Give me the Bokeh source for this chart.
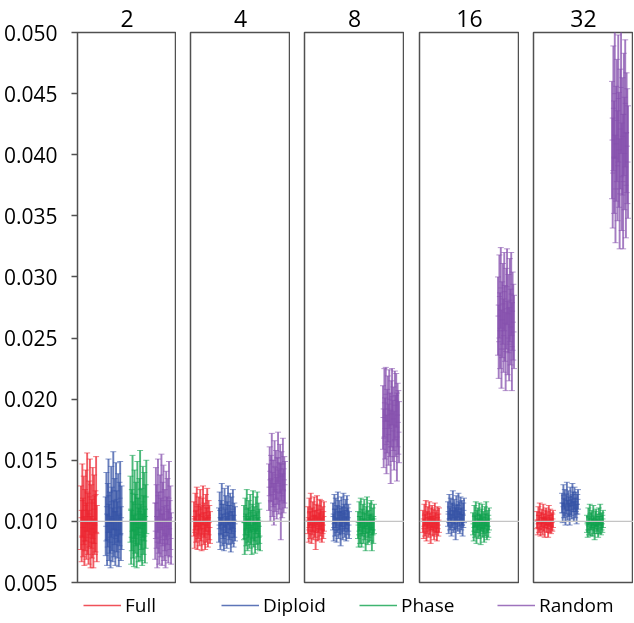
from bokeh.plotting import figure
from bokeh.layouts import column, row
from bokeh.models import Range1d, FixedTicker, PrintfTickFormatter, Span, Legend, LegendItem
from bokeh.embed import file_html
from bokeh.resources import INLINE

panels = ["2", "4", "8", "16", "32"]
methods = ["Full", "Diploid", "Phase", "Random"]
colors = ["#ec2530", "#3553a6", "#0fa24e", "#8650ad"]
y_ticks = [0.005, 0.010, 0.015, 0.020, 0.025, 0.030, 0.035, 0.040, 0.045, 0.050]
ref_value = 0.010

# ---- panel "2" ----
full_2 = [0.0103, 0.0088, 0.0117, 0.0095, 0.0109, 0.0084, 0.0101, 0.0113, 0.0092, 0.0124, 0.0098, 0.0087, 0.0106, 0.0120, 0.0083, 0.0104, 0.0094, 0.0115, 0.0082, 0.0110, 0.0097, 0.0100, 0.0122, 0.0090]
err_full_2 = [0.0026, 0.0021, 0.0030, 0.0024, 0.0028, 0.0020, 0.0025, 0.0029, 0.0023, 0.0032, 0.0025, 0.0022, 0.0027, 0.0031, 0.0021, 0.0026, 0.0024, 0.0029, 0.0020, 0.0028, 0.0024, 0.0025, 0.0031, 0.0023]
diploid_2 = [0.0096, 0.0112, 0.0085, 0.0105, 0.0121, 0.0091, 0.0099, 0.0083, 0.0116, 0.0102, 0.0089, 0.0125, 0.0094, 0.0108, 0.0086, 0.0118, 0.0100, 0.0093, 0.0111, 0.0084, 0.0106, 0.0119, 0.0090, 0.0103]
err_diploid_2 = [0.0024, 0.0028, 0.0021, 0.0026, 0.0030, 0.0023, 0.0025, 0.0021, 0.0029, 0.0026, 0.0022, 0.0032, 0.0023, 0.0027, 0.0022, 0.0030, 0.0025, 0.0023, 0.0028, 0.0021, 0.0026, 0.0030, 0.0022, 0.0026]
phase_2 = [0.0110, 0.0087, 0.0101, 0.0123, 0.0093, 0.0084, 0.0114, 0.0098, 0.0106, 0.0082, 0.0119, 0.0095, 0.0089, 0.0108, 0.0126, 0.0091, 0.0102, 0.0085, 0.0116, 0.0097, 0.0112, 0.0088, 0.0104, 0.0120]
err_phase_2 = [0.0027, 0.0022, 0.0025, 0.0031, 0.0023, 0.0021, 0.0028, 0.0024, 0.0026, 0.0020, 0.0030, 0.0024, 0.0022, 0.0027, 0.0032, 0.0023, 0.0025, 0.0021, 0.0029, 0.0024, 0.0028, 0.0022, 0.0026, 0.0030]
random_2 = [0.0092, 0.0115, 0.0104, 0.0083, 0.0121, 0.0099, 0.0087, 0.0110, 0.0095, 0.0124, 0.0085, 0.0106, 0.0117, 0.0090, 0.0101, 0.0082, 0.0113, 0.0096, 0.0108, 0.0088, 0.0119, 0.0094, 0.0103, 0.0086]
err_random_2 = [0.0023, 0.0029, 0.0026, 0.0021, 0.0030, 0.0025, 0.0022, 0.0028, 0.0024, 0.0031, 0.0021, 0.0026, 0.0029, 0.0022, 0.0025, 0.0020, 0.0028, 0.0024, 0.0027, 0.0022, 0.0030, 0.0023, 0.0026, 0.0021]

# ---- panel "4" ----
full_4 = [0.0102, 0.0091, 0.0108, 0.0096, 0.0112, 0.0089, 0.0100, 0.0105, 0.0093, 0.0110, 0.0098, 0.0088, 0.0104, 0.0113, 0.0094, 0.0101, 0.0090, 0.0107, 0.0097, 0.0111, 0.0092, 0.0103, 0.0099, 0.0095]
err_full_4 = [0.0014, 0.0013, 0.0015, 0.0013, 0.0016, 0.0012, 0.0014, 0.0015, 0.0013, 0.0016, 0.0014, 0.0012, 0.0015, 0.0016, 0.0013, 0.0014, 0.0013, 0.0015, 0.0014, 0.0016, 0.0013, 0.0014, 0.0014, 0.0013]
diploid_4 = [0.0097, 0.0109, 0.0090, 0.0103, 0.0114, 0.0093, 0.0100, 0.0088, 0.0111, 0.0096, 0.0106, 0.0091, 0.0102, 0.0113, 0.0094, 0.0099, 0.0108, 0.0087, 0.0105, 0.0095, 0.0110, 0.0092, 0.0101, 0.0098]
err_diploid_4 = [0.0014, 0.0015, 0.0013, 0.0014, 0.0017, 0.0013, 0.0014, 0.0012, 0.0016, 0.0014, 0.0015, 0.0013, 0.0014, 0.0016, 0.0013, 0.0014, 0.0015, 0.0012, 0.0015, 0.0013, 0.0016, 0.0013, 0.0014, 0.0014]
phase_4 = [0.0099, 0.0086, 0.0104, 0.0093, 0.0110, 0.0089, 0.0097, 0.0102, 0.0091, 0.0107, 0.0095, 0.0085, 0.0100, 0.0109, 0.0092, 0.0098, 0.0087, 0.0105, 0.0094, 0.0108, 0.0090, 0.0101, 0.0096, 0.0088]
err_phase_4 = [0.0014, 0.0013, 0.0015, 0.0013, 0.0016, 0.0013, 0.0014, 0.0015, 0.0013, 0.0015, 0.0014, 0.0012, 0.0014, 0.0016, 0.0013, 0.0014, 0.0013, 0.0015, 0.0013, 0.0016, 0.0013, 0.0014, 0.0014, 0.0012]
random_4 = [0.0128, 0.0141, 0.0117, 0.0135, 0.0150, 0.0122, 0.0131, 0.0114, 0.0145, 0.0126, 0.0138, 0.0119, 0.0133, 0.0152, 0.0124, 0.0129, 0.0143, 0.0116, 0.0137, 0.0121, 0.0147, 0.0125, 0.0134, 0.0130]
err_random_4 = [0.0019, 0.0020, 0.0017, 0.0019, 0.0022, 0.0018, 0.0019, 0.0017, 0.0021, 0.0018, 0.0020, 0.0017, 0.0019, 0.0021, 0.0018, 0.0019, 0.0020, 0.0031, 0.0020, 0.0018, 0.0021, 0.0018, 0.0019, 0.0019]

# ---- panel "8" ----
full_8 = [0.0101, 0.0093, 0.0107, 0.0097, 0.0110, 0.0092, 0.0100, 0.0104, 0.0095, 0.0108, 0.0098, 0.0091, 0.0103, 0.0109, 0.0094, 0.0102, 0.0096, 0.0106, 0.0099, 0.0105, 0.0093, 0.0101, 0.0097, 0.0104]
err_full_8 = [0.0011, 0.0010, 0.0012, 0.0011, 0.0013, 0.0010, 0.0011, 0.0012, 0.0010, 0.0012, 0.0011, 0.0014, 0.0011, 0.0012, 0.0010, 0.0011, 0.0011, 0.0012, 0.0011, 0.0012, 0.0010, 0.0011, 0.0011, 0.0012]
diploid_8 = [0.0104, 0.0095, 0.0110, 0.0099, 0.0107, 0.0093, 0.0102, 0.0112, 0.0097, 0.0105, 0.0100, 0.0094, 0.0108, 0.0101, 0.0096, 0.0111, 0.0103, 0.0098, 0.0106, 0.0094, 0.0109, 0.0100, 0.0103, 0.0097]
err_diploid_8 = [0.0011, 0.0011, 0.0012, 0.0011, 0.0012, 0.0010, 0.0011, 0.0012, 0.0011, 0.0012, 0.0011, 0.0014, 0.0012, 0.0011, 0.0011, 0.0012, 0.0011, 0.0011, 0.0012, 0.0010, 0.0012, 0.0011, 0.0011, 0.0011]
phase_8 = [0.0097, 0.0089, 0.0104, 0.0093, 0.0107, 0.0090, 0.0099, 0.0102, 0.0092, 0.0106, 0.0096, 0.0088, 0.0101, 0.0108, 0.0091, 0.0098, 0.0094, 0.0103, 0.0095, 0.0105, 0.0089, 0.0100, 0.0093, 0.0102]
err_phase_8 = [0.0011, 0.0010, 0.0012, 0.0011, 0.0012, 0.0011, 0.0011, 0.0012, 0.0010, 0.0012, 0.0011, 0.0012, 0.0011, 0.0012, 0.0010, 0.0011, 0.0011, 0.0012, 0.0011, 0.0012, 0.0013, 0.0011, 0.0011, 0.0012]
random_8 = [0.0185, 0.0168, 0.0197, 0.0176, 0.0204, 0.0163, 0.0182, 0.0192, 0.0171, 0.0200, 0.0179, 0.0161, 0.0188, 0.0202, 0.0174, 0.0184, 0.0166, 0.0195, 0.0178, 0.0199, 0.0169, 0.0187, 0.0181, 0.0173]
err_random_8 = [0.0026, 0.0024, 0.0028, 0.0025, 0.0022, 0.0024, 0.0026, 0.0027, 0.0025, 0.0024, 0.0026, 0.0030, 0.0027, 0.0023, 0.0025, 0.0026, 0.0024, 0.0028, 0.0025, 0.0022, 0.0036, 0.0026, 0.0026, 0.0025]

# ---- panel "16" ----
full_16 = [0.0100, 0.0094, 0.0105, 0.0097, 0.0107, 0.0092, 0.0099, 0.0103, 0.0095, 0.0106, 0.0098, 0.0093, 0.0102, 0.0104, 0.0096, 0.0101, 0.0094, 0.0105, 0.0098, 0.0100, 0.0092, 0.0103, 0.0097, 0.0101]
err_full_16 = [0.0009, 0.0008, 0.0009, 0.0009, 0.0010, 0.0008, 0.0009, 0.0009, 0.0008, 0.0010, 0.0009, 0.0011, 0.0009, 0.0009, 0.0008, 0.0009, 0.0009, 0.0010, 0.0009, 0.0009, 0.0008, 0.0009, 0.0009, 0.0010]
diploid_16 = [0.0106, 0.0099, 0.0112, 0.0102, 0.0109, 0.0097, 0.0105, 0.0114, 0.0100, 0.0108, 0.0103, 0.0098, 0.0111, 0.0104, 0.0101, 0.0113, 0.0106, 0.0099, 0.0110, 0.0102, 0.0107, 0.0097, 0.0105, 0.0109]
err_diploid_16 = [0.0010, 0.0009, 0.0010, 0.0009, 0.0010, 0.0009, 0.0010, 0.0011, 0.0009, 0.0010, 0.0010, 0.0013, 0.0010, 0.0010, 0.0009, 0.0010, 0.0010, 0.0009, 0.0010, 0.0009, 0.0010, 0.0009, 0.0010, 0.0010]
phase_16 = [0.0098, 0.0092, 0.0104, 0.0096, 0.0106, 0.0091, 0.0100, 0.0102, 0.0094, 0.0105, 0.0097, 0.0093, 0.0101, 0.0104, 0.0095, 0.0099, 0.0092, 0.0103, 0.0097, 0.0106, 0.0093, 0.0100, 0.0096, 0.0102]
err_phase_16 = [0.0009, 0.0008, 0.0009, 0.0009, 0.0010, 0.0009, 0.0009, 0.0009, 0.0008, 0.0010, 0.0009, 0.0012, 0.0009, 0.0010, 0.0008, 0.0009, 0.0009, 0.0009, 0.0009, 0.0010, 0.0008, 0.0009, 0.0009, 0.0009]
random_16 = [0.0268, 0.0247, 0.0284, 0.0256, 0.0291, 0.0241, 0.0265, 0.0278, 0.0252, 0.0288, 0.0262, 0.0239, 0.0274, 0.0292, 0.0250, 0.0270, 0.0245, 0.0281, 0.0259, 0.0286, 0.0243, 0.0272, 0.0263, 0.0255]
err_random_16 = [0.0032, 0.0030, 0.0034, 0.0031, 0.0033, 0.0032, 0.0031, 0.0033, 0.0030, 0.0032, 0.0031, 0.0032, 0.0033, 0.0031, 0.0030, 0.0032, 0.0030, 0.0034, 0.0031, 0.0034, 0.0036, 0.0032, 0.0031, 0.0030]

# ---- panel "32" ----
full_32 = [0.0101, 0.0095, 0.0105, 0.0098, 0.0107, 0.0094, 0.0100, 0.0103, 0.0096, 0.0106, 0.0099, 0.0095, 0.0102, 0.0104, 0.0097, 0.0101, 0.0094, 0.0105, 0.0098, 0.0103, 0.0096, 0.0100, 0.0099, 0.0102]
err_full_32 = [0.0007, 0.0006, 0.0007, 0.0007, 0.0008, 0.0006, 0.0007, 0.0007, 0.0007, 0.0008, 0.0007, 0.0008, 0.0007, 0.0007, 0.0006, 0.0007, 0.0007, 0.0008, 0.0007, 0.0007, 0.0006, 0.0007, 0.0007, 0.0007]
diploid_32 = [0.0115, 0.0107, 0.0121, 0.0111, 0.0118, 0.0105, 0.0114, 0.0123, 0.0109, 0.0117, 0.0112, 0.0106, 0.0120, 0.0113, 0.0110, 0.0122, 0.0116, 0.0108, 0.0119, 0.0111, 0.0116, 0.0106, 0.0114, 0.0118]
err_diploid_32 = [0.0008, 0.0008, 0.0009, 0.0008, 0.0008, 0.0008, 0.0008, 0.0009, 0.0008, 0.0008, 0.0008, 0.0009, 0.0008, 0.0008, 0.0008, 0.0009, 0.0008, 0.0008, 0.0009, 0.0008, 0.0008, 0.0008, 0.0008, 0.0008]
phase_32 = [0.0098, 0.0093, 0.0104, 0.0096, 0.0106, 0.0094, 0.0100, 0.0102, 0.0095, 0.0105, 0.0097, 0.0093, 0.0101, 0.0103, 0.0096, 0.0099, 0.0094, 0.0104, 0.0097, 0.0106, 0.0095, 0.0100, 0.0098, 0.0102]
err_phase_32 = [0.0007, 0.0006, 0.0007, 0.0007, 0.0008, 0.0006, 0.0007, 0.0007, 0.0007, 0.0008, 0.0007, 0.0008, 0.0007, 0.0007, 0.0006, 0.0007, 0.0007, 0.0007, 0.0007, 0.0008, 0.0006, 0.0007, 0.0007, 0.0007]
random_32 = [0.0412, 0.0385, 0.0438, 0.0398, 0.0450, 0.0372, 0.0409, 0.0428, 0.0391, 0.0446, 0.0404, 0.0368, 0.0421, 0.0455, 0.0382, 0.0415, 0.0378, 0.0433, 0.0401, 0.0442, 0.0375, 0.0418, 0.0407, 0.0394]
err_random_32 = [0.0048, 0.0045, 0.0051, 0.0046, 0.0053, 0.0044, 0.0047, 0.0050, 0.0045, 0.0052, 0.0047, 0.0045, 0.0049, 0.0054, 0.0044, 0.0048, 0.0055, 0.0050, 0.0046, 0.0052, 0.0043, 0.0049, 0.0047, 0.0046]

series = {
    "2": [(full_2, err_full_2), (diploid_2, err_diploid_2), (phase_2, err_phase_2), (random_2, err_random_2)],
    "4": [(full_4, err_full_4), (diploid_4, err_diploid_4), (phase_4, err_phase_4), (random_4, err_random_4)],
    "8": [(full_8, err_full_8), (diploid_8, err_diploid_8), (phase_8, err_phase_8), (random_8, err_random_8)],
    "16": [(full_16, err_full_16), (diploid_16, err_diploid_16), (phase_16, err_phase_16), (random_16, err_random_16)],
    "32": [(full_32, err_full_32), (diploid_32, err_diploid_32), (phase_32, err_phase_32), (random_32, err_random_32)],
}

FONT = "Open Sans"
FIG_H = 600
left_borders = [76, 14, 14, 15, 14]
FRAME_W = 100

figs = []
for pi, name in enumerate(panels):
    first = pi == 0
    p = figure(width=left_borders[pi] + FRAME_W, height=FIG_H,
               x_range=Range1d(0, 4), y_range=Range1d(y_ticks[0], y_ticks[-1]),
               x_axis_location=None, y_axis_location="left" if first else None,
               toolbar_location=None, output_backend="svg",
               min_border_left=left_borders[pi], min_border_right=0,
               min_border_top=32, min_border_bottom=18,
               background_fill_color="white", border_fill_color="white")
    p.title.text = name
    p.title.align = "center"
    p.title.text_font = FONT
    p.title.text_font_size = "23px"
    p.title.text_font_style = "normal"
    p.title.text_color = "black"
    p.title.standoff = 11
    p.xgrid.visible = False
    p.ygrid.visible = False
    p.outline_line_color = "#505050"
    p.outline_line_width = 1.5
    if first:
        ax = p.yaxis[0]
        ax.ticker = FixedTicker(ticks=y_ticks)
        ax.formatter = PrintfTickFormatter(format="%.3f")
        ax.major_label_text_font = FONT
        ax.major_label_text_font_size = "21px"
        ax.major_label_text_color = "black"
        ax.major_label_standoff = 14
        ax.major_tick_out = 6
        ax.major_tick_in = 0
        ax.major_tick_line_color = "#505050"
        ax.major_tick_line_width = 1.3
        ax.minor_tick_line_color = None
        ax.axis_line_color = None

    for gi, (vals, errs) in enumerate(series[name]):
        n = len(vals)
        xs = [gi + 0.14 + 0.64 * j / (n - 1) for j in range(n)]
        tops = [v + e for v, e in zip(vals, errs)]
        bots = [v - e for v, e in zip(vals, errs)]
        c = colors[gi]
        p.segment(x0=xs, y0=bots, x1=xs, y1=tops, line_color=c, line_width=1.9, line_alpha=0.75)
        p.scatter(x=xs + xs, y=tops + bots, marker="dash", size=6, line_color=c,
                  line_width=1, line_alpha=0.6)
        p.scatter(x=xs, y=vals, marker="dash", size=5, line_color=c,
                  line_width=1, line_alpha=0.6)

    p.add_layout(Span(location=ref_value, dimension="width", line_color="#c4c4c4",
                      line_width=1.3, level="overlay"))
    figs.append(p)

# legend strip: transparent, pulled up so it overlaps the panels' empty bottom border
lf = figure(width=634, height=35, x_range=Range1d(0, 1), y_range=Range1d(0, 1),
            x_axis_location=None, y_axis_location=None, toolbar_location=None,
            output_backend="svg", min_border=0, outline_line_color=None,
            background_fill_alpha=0, border_fill_alpha=0,
            styles={"margin-top": "-12px"})
lf.xgrid.visible = False
lf.ygrid.visible = False
items = []
for m, c in zip(methods, colors):
    # legend proxy, drawn outside the visible range
    r = lf.line(x=[0, 1], y=[-5, -5], line_color=c, line_width=1.6, line_alpha=0.8)
    items.append(LegendItem(label=m, renderers=[r]))
legend = Legend(items=items, orientation="horizontal", location=(83, 5),
                glyph_width=38, glyph_height=20, label_standoff=4, label_width=96,
                label_height=20, spacing=0, padding=0, margin=0,
                border_line_color=None, background_fill_alpha=0,
                label_text_font=FONT, label_text_font_size="19px",
                label_text_color="black")
lf.add_layout(legend, "center")

layout = column(row(*figs, spacing=0), lf, spacing=0,
                styles={"position": "fixed", "left": "0px", "top": "0px"})

open("out.html", "w").write(file_html(layout, INLINE))
